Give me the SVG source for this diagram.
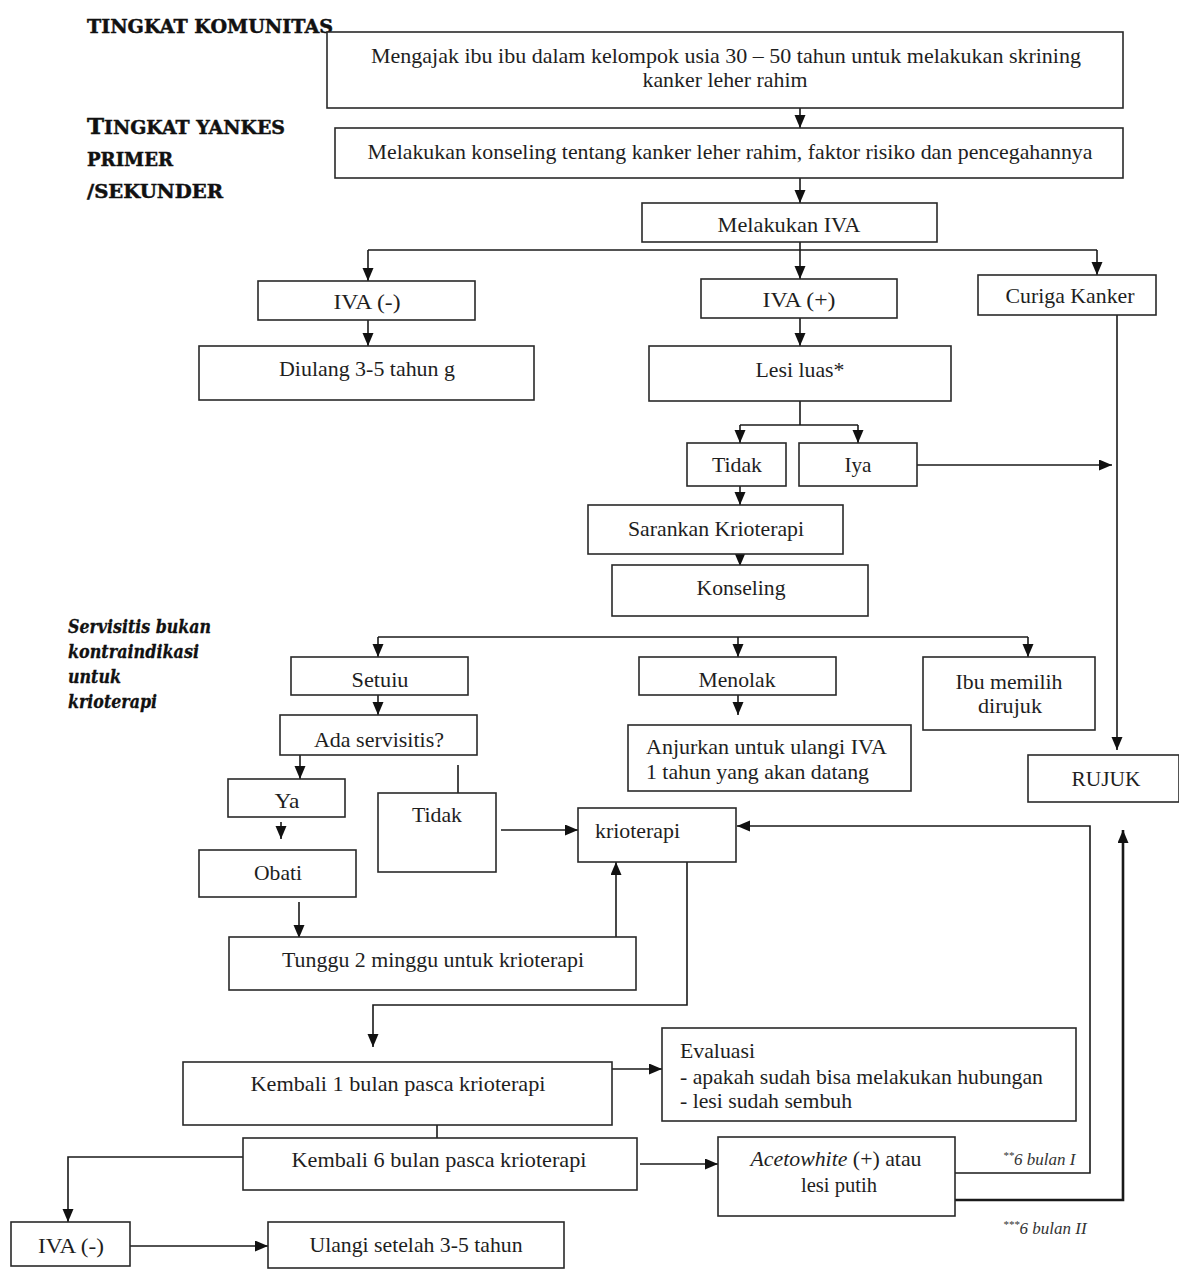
<svg xmlns="http://www.w3.org/2000/svg" width="1179" height="1270" viewBox="0 0 1179 1270">
<style>
.box{fill:#fff;stroke:#2a2a2a;stroke-width:1.6}
.t{font-family:"Liberation Serif","Times New Roman",serif;font-size:21px;fill:#1e1e1e;text-anchor:middle}
.tl{font-family:"Liberation Serif","Times New Roman",serif;font-size:21px;fill:#1e1e1e}
.h{font-family:"DejaVu Serif","Liberation Serif",serif;font-weight:bold;font-size:19px;fill:#111;stroke:#111;stroke-width:0.5}
.hi{font-family:"DejaVu Serif","Liberation Serif",serif;font-weight:bold;font-style:italic;font-size:18px;fill:#111;stroke:#111;stroke-width:0.3}
.n{font-family:"Liberation Serif","Times New Roman",serif;font-style:italic;font-size:17px;fill:#333}
.c{fill:none;stroke:#1a1a1a;stroke-width:1.6}
.ca{fill:none;stroke:#1a1a1a;stroke-width:1.6;marker-end:url(#ah)}
</style>
<defs>
<marker id="ah" markerUnits="userSpaceOnUse" markerWidth="14" markerHeight="12" refX="13" refY="5.5" orient="auto">
<path d="M0,0 L13,5.5 L0,11 z" fill="#111"/>
</marker>
</defs>
<rect width="1179" height="1270" fill="#fff"/>

<g id="labels">
<text class="h" x="87" y="33" textLength="246" lengthAdjust="spacingAndGlyphs">TINGKAT  KOMUNITAS</text>
<text class="h" x="87" y="134" textLength="198" lengthAdjust="spacingAndGlyphs"><tspan font-size="23">T</tspan>INGKAT YANKES</text>
<text class="h" x="87" y="166" textLength="86" lengthAdjust="spacingAndGlyphs">PRIMER</text>
<text class="h" x="87" y="198" textLength="136" lengthAdjust="spacingAndGlyphs">/SEKUNDER</text>
<text class="hi" x="68" y="633" textLength="143" lengthAdjust="spacingAndGlyphs">Servisitis bukan</text>
<text class="hi" x="68" y="658" textLength="131" lengthAdjust="spacingAndGlyphs">kontraindikasi</text>
<text class="hi" x="68" y="683" textLength="53" lengthAdjust="spacingAndGlyphs">untuk</text>
<text class="hi" x="68" y="708" textLength="89" lengthAdjust="spacingAndGlyphs">krioterapi</text>
<text class="n" x="1003" y="1165"><tspan font-size="11" dy="-6">**</tspan><tspan dy="6">6 bulan I</tspan></text>
<text class="n" x="1003" y="1234"><tspan font-size="11" dy="-6">***</tspan><tspan dy="6">6 bulan II</tspan></text>
</g>

<g id="connectors">
<line class="ca" x1="800" y1="108" x2="800" y2="128"/>
<line class="ca" x1="800" y1="178" x2="800" y2="203"/>
<line class="c" x1="800" y1="242" x2="800" y2="250"/>
<line class="c" x1="368" y1="250" x2="1097" y2="250"/>
<line class="ca" x1="368" y1="250" x2="368" y2="281"/>
<line class="ca" x1="800" y1="250" x2="800" y2="279"/>
<line class="ca" x1="1097" y1="250" x2="1097" y2="275"/>
<line class="ca" x1="368" y1="320" x2="368" y2="346"/>
<line class="ca" x1="800" y1="318" x2="800" y2="346"/>
<line class="ca" x1="1117" y1="315" x2="1117" y2="750"/>
<line class="c" x1="800" y1="401" x2="800" y2="425"/>
<line class="c" x1="740" y1="425" x2="858" y2="425"/>
<line class="ca" x1="740" y1="425" x2="740" y2="443"/>
<line class="ca" x1="858" y1="425" x2="858" y2="443"/>
<line class="ca" x1="917" y1="465" x2="1112" y2="465"/>
<line class="ca" x1="740" y1="486" x2="740" y2="505"/>
<line class="ca" x1="740" y1="554" x2="740" y2="566"/>
<line class="c" x1="378" y1="637" x2="1028" y2="637"/>
<line class="ca" x1="378" y1="637" x2="378" y2="657"/>
<line class="ca" x1="738" y1="637" x2="738" y2="657"/>
<line class="ca" x1="1028" y1="637" x2="1028" y2="657"/>
<line class="ca" x1="378" y1="695" x2="378" y2="715"/>
<line class="ca" x1="738" y1="695" x2="738" y2="715"/>
<line class="ca" x1="300" y1="755" x2="300" y2="779"/>
<line class="c" x1="458" y1="765" x2="458" y2="793"/>
<line class="ca" x1="501" y1="830" x2="578" y2="830"/>
<line class="ca" x1="281" y1="822" x2="281" y2="839"/>
<line class="ca" x1="299" y1="902" x2="299" y2="938"/>
<line class="ca" x1="616" y1="937" x2="616" y2="862"/>
<polyline class="ca" points="687,862 687,1005 373,1005 373,1047"/>
<line class="ca" x1="612" y1="1069" x2="662" y2="1069"/>
<line class="c" x1="437" y1="1125" x2="437" y2="1138"/>
<polyline class="ca" points="243,1157 68,1157 68,1222"/>
<line class="ca" x1="130" y1="1246" x2="268" y2="1246"/>
<line class="ca" x1="640" y1="1164" x2="718" y2="1164"/>
<polyline class="ca" points="955,1173 1090,1173 1090,826 737,826"/>
<polyline class="ca" style="stroke-width:2.6" points="955,1200 1123,1200 1123,830"/>
</g>

<g id="n1"><rect class="box" x="327" y="32" width="796" height="76"/>
<text class="t" x="726" y="63" textLength="710" lengthAdjust="spacingAndGlyphs">Mengajak ibu ibu dalam kelompok usia 30 – 50 tahun untuk melakukan  skrining</text>
<text class="t" x="725" y="87" textLength="165" lengthAdjust="spacingAndGlyphs">kanker leher rahim</text></g>
<g id="n2"><rect class="box" x="335" y="128" width="788" height="50"/>
<text class="t" x="730" y="159" textLength="725" lengthAdjust="spacingAndGlyphs">Melakukan konseling tentang kanker leher rahim, faktor risiko dan pencegahannya</text></g>
<g id="n3"><rect class="box" x="642" y="203" width="295" height="39"/>
<text class="t" x="789" y="232" textLength="143" lengthAdjust="spacingAndGlyphs">Melakukan IVA</text></g>
<g id="n4"><rect class="box" x="258" y="281" width="217" height="39"/>
<text class="t" x="367" y="309" textLength="67" lengthAdjust="spacingAndGlyphs">IVA (-)</text></g>
<g id="n5"><rect class="box" x="701" y="279" width="196" height="39"/>
<text class="t" x="799" y="307" textLength="73" lengthAdjust="spacingAndGlyphs">IVA (+)</text></g>
<g id="n6"><rect class="box" x="978" y="275" width="178" height="40"/>
<text class="t" x="1070" y="303" textLength="129" lengthAdjust="spacingAndGlyphs">Curiga Kanker</text></g>
<g id="n7"><rect class="box" x="199" y="346" width="335" height="54"/>
<text class="t" x="367" y="376" textLength="176" lengthAdjust="spacingAndGlyphs">Diulang 3-5 tahun g</text></g>
<g id="n8"><rect class="box" x="649" y="346" width="302" height="55"/>
<text class="t" x="800" y="377" textLength="89" lengthAdjust="spacingAndGlyphs">Lesi luas*</text></g>
<g id="n9"><rect class="box" x="687" y="443" width="99" height="43"/>
<text class="t" x="737" y="472" textLength="50" lengthAdjust="spacingAndGlyphs">Tidak</text></g>
<g id="n10"><rect class="box" x="799" y="443" width="118" height="43"/>
<text class="t" x="858" y="472" textLength="27" lengthAdjust="spacingAndGlyphs">Iya</text></g>
<g id="n11"><rect class="box" x="588" y="505" width="255" height="49"/>
<text class="t" x="716" y="536" textLength="176" lengthAdjust="spacingAndGlyphs">Sarankan Krioterapi</text></g>
<g id="n12"><rect class="box" x="612" y="565" width="256" height="51"/>
<text class="t" x="741" y="595" textLength="89" lengthAdjust="spacingAndGlyphs">Konseling</text></g>
<g id="n13"><rect class="box" x="291" y="657" width="177" height="38"/>
<text class="t" x="380" y="687" textLength="57" lengthAdjust="spacingAndGlyphs">Setuiu</text></g>
<g id="n14"><rect class="box" x="639" y="657" width="197" height="38"/>
<text class="t" x="737" y="687" textLength="77" lengthAdjust="spacingAndGlyphs">Menolak</text></g>
<g id="n15"><rect class="box" x="923" y="657" width="172" height="73"/>
<text class="t" x="1009" y="689" textLength="107" lengthAdjust="spacingAndGlyphs">Ibu memilih</text>
<text class="t" x="1010" y="713" textLength="64" lengthAdjust="spacingAndGlyphs">dirujuk</text></g>
<g id="n16"><rect class="box" x="280" y="715" width="197" height="40"/>
<text class="t" x="379" y="747" textLength="130" lengthAdjust="spacingAndGlyphs">Ada servisitis?</text></g>
<g id="n17"><rect class="box" x="628" y="725" width="283" height="66"/>
<text class="tl" x="646" y="754" textLength="241" lengthAdjust="spacingAndGlyphs">Anjurkan untuk ulangi IVA</text>
<text class="tl" x="646" y="779" textLength="223" lengthAdjust="spacingAndGlyphs">1 tahun yang akan datang</text></g>
<g id="n18"><rect class="box" x="1028" y="755" width="151" height="47"/>
<text class="t" x="1106" y="786" textLength="69" lengthAdjust="spacingAndGlyphs">RUJUK</text></g>
<g id="n19"><rect class="box" x="228" y="779" width="117" height="38"/>
<text class="t" x="287" y="808" textLength="25" lengthAdjust="spacingAndGlyphs">Ya</text></g>
<g id="n20"><rect class="box" x="378" y="793" width="118" height="79"/>
<text class="t" x="437" y="822" textLength="50" lengthAdjust="spacingAndGlyphs">Tidak</text></g>
<g id="n21"><rect class="box" x="578" y="808" width="158" height="54"/>
<text class="tl" x="595" y="838" textLength="85" lengthAdjust="spacingAndGlyphs">krioterapi</text></g>
<g id="n22"><rect class="box" x="199" y="850" width="157" height="47"/>
<text class="t" x="278" y="880" textLength="48" lengthAdjust="spacingAndGlyphs">Obati</text></g>
<g id="n23"><rect class="box" x="229" y="937" width="407" height="53"/>
<text class="t" x="433" y="967" textLength="302" lengthAdjust="spacingAndGlyphs">Tunggu 2 minggu untuk krioterapi</text></g>
<g id="n24"><rect class="box" x="662" y="1028" width="414" height="93"/>
<text class="tl" x="680" y="1058" textLength="75" lengthAdjust="spacingAndGlyphs">Evaluasi</text>
<text class="tl" x="680" y="1084" textLength="363" lengthAdjust="spacingAndGlyphs">- apakah sudah bisa melakukan hubungan</text>
<text class="tl" x="680" y="1108" textLength="172" lengthAdjust="spacingAndGlyphs">- lesi sudah sembuh</text></g>
<g id="n25"><rect class="box" x="183" y="1062" width="429" height="63"/>
<text class="t" x="398" y="1091" textLength="295" lengthAdjust="spacingAndGlyphs">Kembali  1 bulan pasca krioterapi</text></g>
<g id="n26"><rect class="box" x="243" y="1138" width="394" height="52"/>
<text class="t" x="439" y="1167" textLength="295" lengthAdjust="spacingAndGlyphs">Kembali  6 bulan pasca krioterapi</text></g>
<g id="n27"><rect class="box" x="718" y="1137" width="237" height="79"/>
<text class="t" x="836" y="1166" textLength="171" lengthAdjust="spacingAndGlyphs"><tspan font-style="italic">Acetowhite</tspan> (+) atau</text>
<text class="t" x="839" y="1192" textLength="76" lengthAdjust="spacingAndGlyphs">lesi putih</text></g>
<g id="n28"><rect class="box" x="11" y="1222" width="119" height="44"/>
<text class="t" x="71" y="1253" textLength="66" lengthAdjust="spacingAndGlyphs">IVA (-)</text></g>
<g id="n29"><rect class="box" x="268" y="1222" width="296" height="46"/>
<text class="t" x="416" y="1252" textLength="213" lengthAdjust="spacingAndGlyphs">Ulangi setelah 3-5 tahun</text></g>
</svg>
